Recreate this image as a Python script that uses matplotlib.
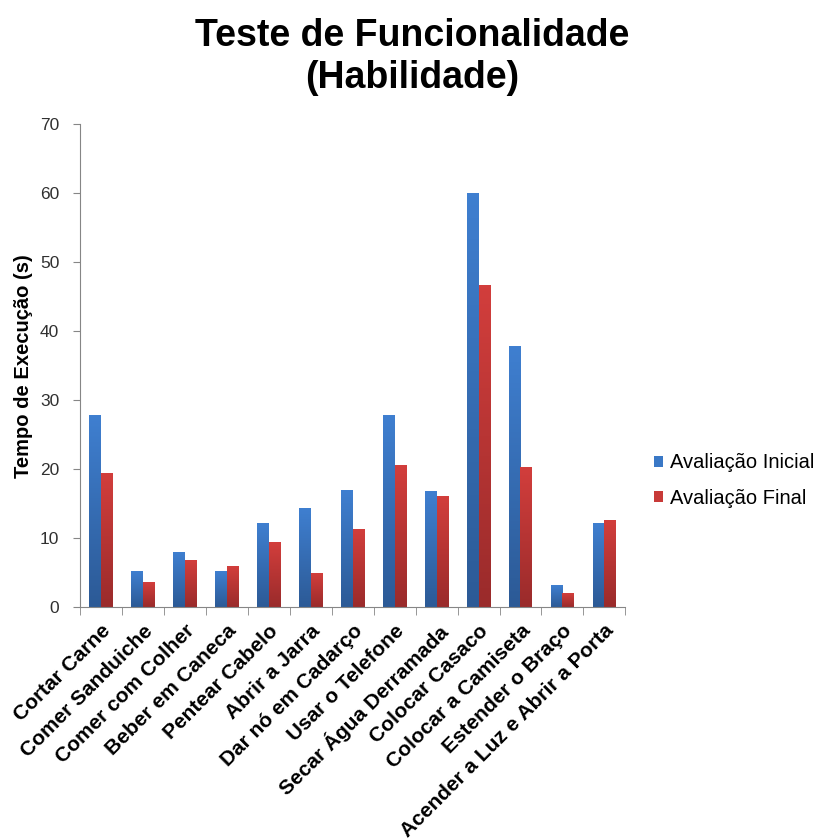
import numpy as np
import matplotlib.pyplot as plt
from matplotlib.colors import LinearSegmentedColormap
from matplotlib.ticker import FixedLocator

plt.rcParams['font.family'] = ['Liberation Sans', 'DejaVu Sans']

categorias = ['Cortar Carne', 'Comer Sanduiche', 'Comer com Colher', 'Beber em Caneca',
              'Pentear Cabelo', 'Abrir a Jarra', 'Dar nó em Cadarço', 'Usar o Telefone',
              'Secar Água Derramada', 'Colocar Casaco', 'Colocar a Camiseta',
              'Estender o Braço', 'Acender a Luz e Abrir a Porta']
inicial = [27.7, 5.1, 7.9, 5.1, 12.1, 14.3, 16.9, 27.8, 16.7, 60.0, 37.7, 3.1, 12.1]
final = [19.3, 3.6, 6.8, 5.8, 9.3, 4.8, 11.2, 20.5, 16.0, 46.6, 20.2, 2.0, 12.5]

fig = plt.figure(figsize=(8.25, 8.4), dpi=100)
ax = fig.add_axes([0.097, 0.277, 0.661, 0.575])

x = np.arange(len(categorias))
w = 0.28
b1 = ax.bar(x - w/2, inicial, w, color='#3a78c6', label='Avaliação Inicial', zorder=2)
b2 = ax.bar(x + w/2, final, w, color='#c83a38', label='Avaliação Final', zorder=2)

# gradiente vertical dentro das barras
cm_azul = LinearSegmentedColormap.from_list('az', ['#2c5a96', '#3f7fd0'])
cm_verm = LinearSegmentedColormap.from_list('vm', ['#9a2b2b', '#d23e3c'])
grad = np.linspace(0, 1, 100).reshape(-1, 1)
for bars, cm in [(b1, cm_azul), (b2, cm_verm)]:
    for r in bars:
        x0, h, bw = r.get_x(), r.get_height(), r.get_width()
        r.set_facecolor('none')
        r.set_edgecolor('none')
        ax.imshow(grad, cmap=cm, origin='lower', aspect='auto',
                  extent=[x0, x0 + bw, 0, h], zorder=2)

ax.set_xlim(-0.5, len(categorias) - 0.5)
ax.set_ylim(0, 70)
ax.set_yticks(range(0, 71, 10))
ax.tick_params(axis='y', labelsize=12.5, length=5, color='#868686', direction='out',
               labelcolor='#303030', pad=10)

ax.set_xticks(x)
ax.set_xticklabels(categorias, rotation=45, ha='right', rotation_mode='anchor',
                   fontsize=15, fontweight='bold')
ax.tick_params(axis='x', which='major', length=0, pad=10)
ax.xaxis.set_minor_locator(FixedLocator(np.arange(-0.5, len(categorias), 1)))
ax.tick_params(axis='x', which='minor', length=6, color='#868686')

for s in ['top', 'right']:
    ax.spines[s].set_visible(False)
for s in ['left', 'bottom']:
    ax.spines[s].set_color('#868686')

ax.set_ylabel('Tempo de Execução (s)', fontsize=14.5, fontweight='bold', labelpad=5)

fig.text(0.5, 0.932, 'Teste de Funcionalidade\n(Habilidade)', ha='center', va='center',
         fontsize=27, fontweight='bold', linespacing=1.2)

leg = fig.legend(handles=[b1, b2], loc='center left', bbox_to_anchor=(0.793, 0.428),
                 frameon=False, fontsize=14.5, handlelength=0.45, handleheight=0.45,
                 handletextpad=0.35, labelspacing=0.8, borderpad=0, borderaxespad=0)
leg.legend_handles[0].set_facecolor('#3a78c6')
leg.legend_handles[1].set_facecolor('#c83a38')

plt.savefig('out.png', dpi=100)
